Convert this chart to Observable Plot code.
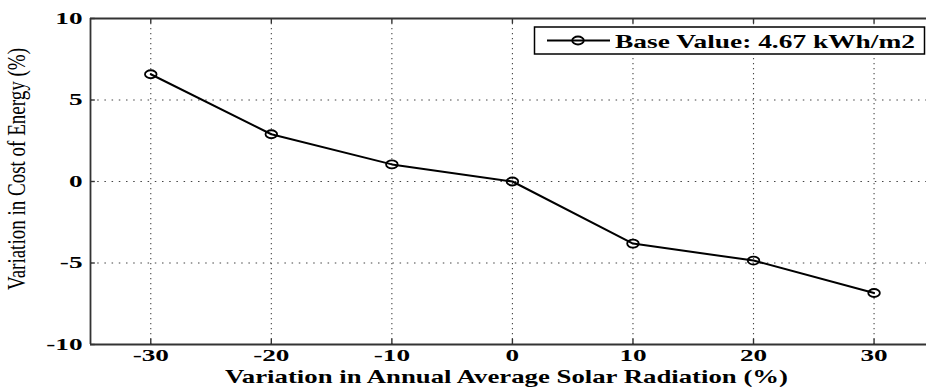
<!DOCTYPE html>
<html>
<head>
<meta charset="utf-8">
<script src="https://cdn.jsdelivr.net/npm/d3@7"></script>
<script src="https://cdn.jsdelivr.net/npm/@observablehq/plot@0.6"></script>
<style>
  html, body { margin: 0; padding: 0; background: #fff; overflow: hidden; }
  #chart svg { display: block; }
</style>
</head>
<body>
<div id="chart"></div>
<script>
// Sensitivity of cost of energy to annual average solar radiation
const radiationChange = [-30, -20, -10, 0, 10, 20, 30];     // % change in solar radiation
const costChange = [6.58, 2.90, 1.05, 0, -3.81, -4.85, -6.84]; // % change in cost of energy
const xTicks = [-30, -20, -10, 0, 10, 20, 30];
const yTicks = [-10, -5, 0, 5, 10];
const yGrid = [-5, 0, 5];
const seriesName = "Base Value: 4.67 kWh/m2";
const xTitle = "Variation in Annual Average Solar Radiation (%)";
const yTitle = "Variation in Cost of Energy (%)";

const points = radiationChange.map((x, i) => ({x, y: costChange[i]}));

// open marker, wider than tall
const ovalSymbol = {
  draw(context) {
    const rx = 5.8, ry = 4, k = 0.5523;
    context.moveTo(rx, 0);
    context.bezierCurveTo(rx, ry * k, rx * k, ry, 0, ry);
    context.bezierCurveTo(-rx * k, ry, -rx, ry * k, -rx, 0);
    context.bezierCurveTo(-rx, -ry * k, -rx * k, -ry, 0, -ry);
    context.bezierCurveTo(rx * k, -ry, rx, -ry * k, rx, 0);
    context.closePath();
  }
};

const serif = '"Liberation Serif", "Times New Roman", serif';
const frameColor = "#333";
const gridColor = "#444";
const plainNumber = d => String(d);

const plot = Plot.plot({
  width: 926,
  height: 387,
  marginLeft: 90,
  marginRight: 0,
  marginTop: 18,
  marginBottom: 43,
  style: {color: "#000", background: "#fff", fontFamily: serif},
  x: {domain: [-35, 34.35]},
  y: {domain: [-10, 10]},
  marks: [
    Plot.gridX(xTicks, {stroke: gridColor, strokeOpacity: 1, strokeWidth: 1.1, strokeDasharray: "1.2,3.8"}),
    Plot.gridY(yGrid, {stroke: gridColor, strokeOpacity: 1, strokeWidth: 1.1, strokeDasharray: "1.5,5.7"}),
    // inward tick marks on top, bottom and left edges
    Plot.ruleX(xTicks, {y1: -10, y2: -9.68, stroke: frameColor, strokeWidth: 1.4}),
    Plot.ruleX(xTicks, {y1: 10, y2: 9.68, stroke: frameColor, strokeWidth: 1.4}),
    Plot.ruleY(yTicks, {x1: -35, x2: -34.6, stroke: frameColor, strokeWidth: 1.4}),
    // axes box
    Plot.ruleY([-10, 10], {stroke: frameColor, strokeWidth: 1.8}),
    Plot.ruleX([-35], {stroke: frameColor, strokeWidth: 1.8}),
    Plot.axisX(xTicks, {tickSize: 0, tickPadding: 5, label: null, fontSize: 16, fontWeight: "bold", tickFormat: plainNumber}),
    Plot.axisY(yTicks, {tickSize: 0, tickPadding: 8, label: null, fontSize: 16, fontWeight: "bold", tickFormat: plainNumber}),
    Plot.line(points, {x: "x", y: "y", stroke: "#000", strokeWidth: 2}),
    Plot.dot(points, {x: "x", y: "y", symbol: ovalSymbol, stroke: "#000", strokeWidth: 1.8, fill: "none"})
  ]
});

document.getElementById("chart").appendChild(plot);

const svg = d3.select(plot);

// serif face on the tick labels, widened horizontally
svg.selectAll("text").each(function () {
  this.style.fontFamily = serif;
  const w = this.getComputedTextLength();
  if (w > 0) {
    this.setAttribute("textLength", (w * 1.7).toFixed(1));
    this.setAttribute("lengthAdjust", "spacingAndGlyphs");
  }
});

// x-axis title
svg.append("text")
  .attr("x", 506.5).attr("y", 383)
  .attr("text-anchor", "middle")
  .style("font-family", serif).style("font-size", "19px").style("font-weight", "bold")
  .attr("fill", "#000")
  .attr("textLength", 563).attr("lengthAdjust", "spacingAndGlyphs")
  .text(xTitle);

// y-axis title
svg.append("text")
  .attr("transform", "translate(25,169) scale(1.6,1) rotate(-90)")
  .attr("text-anchor", "middle")
  .style("font-family", serif).style("font-size", "16px")
  .attr("fill", "#000")
  .attr("textLength", 242).attr("lengthAdjust", "spacingAndGlyphs")
  .text(yTitle);

// legend
const legend = svg.append("g");
legend.append("rect")
  .attr("x", 534.5).attr("y", 27).attr("width", 390).attr("height", 27)
  .attr("fill", "#fff").attr("stroke", "#000").attr("stroke-width", 1.5);
legend.append("line")
  .attr("x1", 547).attr("x2", 610).attr("y1", 40.5).attr("y2", 40.5)
  .attr("stroke", "#000").attr("stroke-width", 2);
legend.append("ellipse")
  .attr("cx", 578).attr("cy", 40.5).attr("rx", 5.8).attr("ry", 4)
  .attr("fill", "none").attr("stroke", "#000").attr("stroke-width", 1.8);
legend.append("text")
  .attr("x", 615).attr("y", 47.5)
  .attr("text-anchor", "start")
  .style("font-family", serif).style("font-size", "19px").style("font-weight", "bold")
  .attr("fill", "#000")
  .attr("textLength", 300).attr("lengthAdjust", "spacingAndGlyphs")
  .text(seriesName);
</script>
</body>
</html>
